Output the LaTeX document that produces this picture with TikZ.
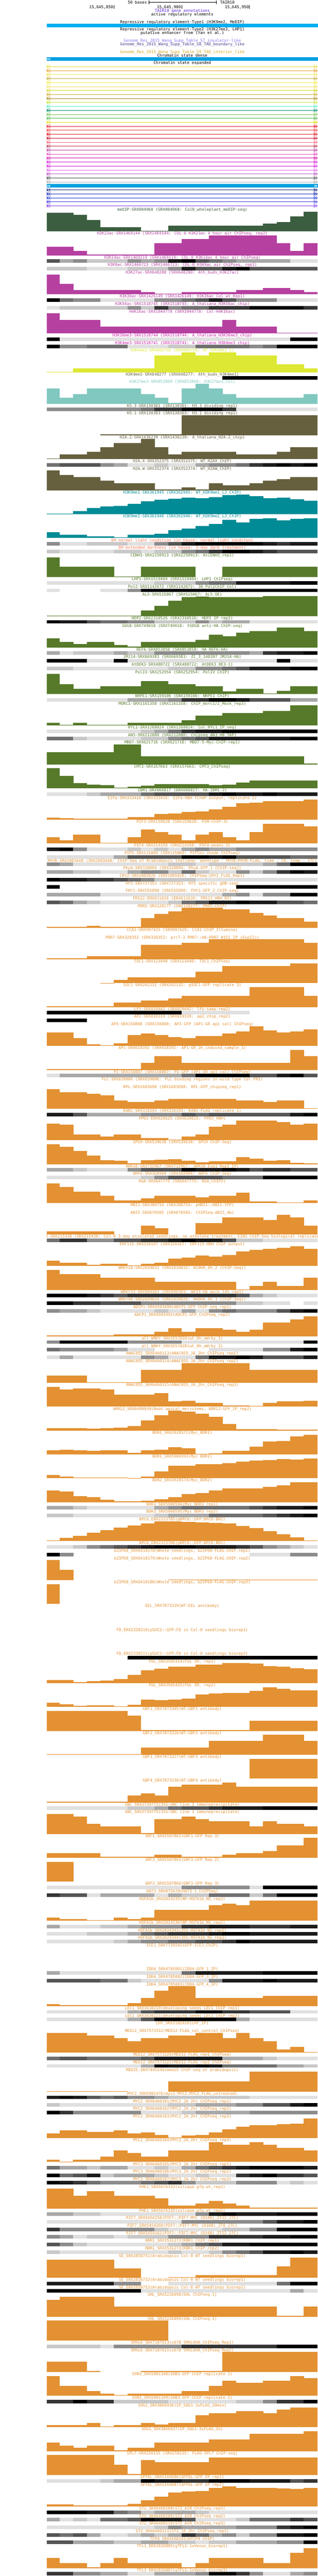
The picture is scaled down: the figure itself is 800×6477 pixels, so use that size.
\documentclass[tikz,border=0pt]{standalone}
\usepackage{fontspec}
\usepackage{xcolor}
\newfontfamily\ucsc{DejaVu Sans Mono}
\usetikzlibrary{positioning}

\definecolor{g1}{RGB}{224,224,224}
\definecolor{g2}{RGB}{200,200,200}
\definecolor{g3}{RGB}{168,168,168}
\definecolor{g4}{RGB}{140,140,140}
\definecolor{g5}{RGB}{112,112,112}
\definecolor{g6}{RGB}{85,85,85}
\definecolor{g7}{RGB}{53,53,53}
\definecolor{g8}{RGB}{27,27,27}
\definecolor{g9}{RGB}{0,0,0}
\definecolor{cMe}{RGB}{60,94,64}
\definecolor{cAc}{RGB}{181,64,160}
\definecolor{cMthree}{RGB}{204,34,170}
\definecolor{cKtwo}{RGB}{221,232,52}
\definecolor{cBrown}{RGB}{102,96,62}
\definecolor{cKtwoseven}{RGB}{128,200,192}
\definecolor{cTeal}{RGB}{0,139,150}
\definecolor{cDH}{RGB}{250,115,75}
\definecolor{cGreen}{RGB}{86,122,42}
\definecolor{cOr}{RGB}{227,145,50}
\definecolor{tairc}{RGB}{90,30,220}
\definecolor{insc}{RGB}{130,120,240}
\definecolor{tadb}{RGB}{72,61,139}
\definecolor{tadi}{RGB}{218,165,32}
\definecolor{repbar}{RGB}{0,174,239}
\definecolor{csbar}{RGB}{0,160,225}
\definecolor{st1}{RGB}{226,226,60}
\definecolor{st2}{RGB}{230,160,50}
\definecolor{st3}{RGB}{238,230,80}
\definecolor{st4}{RGB}{200,175,60}
\definecolor{st5}{RGB}{240,240,60}
\definecolor{st6}{RGB}{245,225,100}
\definecolor{st7}{RGB}{215,215,30}
\definecolor{st8}{RGB}{210,170,50}
\definecolor{st9}{RGB}{170,140,20}
\definecolor{st10}{RGB}{200,225,50}
\definecolor{st11}{RGB}{90,235,200}
\definecolor{st12}{RGB}{0,140,110}
\definecolor{st13}{RGB}{120,195,80}
\definecolor{st14}{RGB}{80,180,80}
\definecolor{st15}{RGB}{220,220,10}
\definecolor{st16}{RGB}{230,20,40}
\definecolor{st17}{RGB}{240,60,60}
\definecolor{st18}{RGB}{220,20,30}
\definecolor{st19}{RGB}{200,10,40}
\definecolor{st20}{RGB}{240,100,130}
\definecolor{st21}{RGB}{190,50,80}
\definecolor{st22}{RGB}{180,60,160}
\definecolor{st23}{RGB}{225,80,190}
\definecolor{st24}{RGB}{210,10,170}
\definecolor{st25}{RGB}{210,20,210}
\definecolor{st26}{RGB}{215,30,220}
\definecolor{st27}{RGB}{230,100,240}
\definecolor{st28}{RGB}{180,80,190}
\definecolor{st29}{RGB}{80,80,80}
\definecolor{st30}{RGB}{170,170,170}
\definecolor{hm1}{RGB}{20,40,130}
\definecolor{hm2}{RGB}{10,30,170}
\definecolor{hm3}{RGB}{30,60,210}
\definecolor{hm4}{RGB}{70,60,220}
\definecolor{hm5}{RGB}{130,60,230}

\newcount\trkY
\newcount\trkN
\newcommand{\tracklabel}[2]{%
  \global\advance\trkN by 1
  \begin{scope}
    \clip (118,{\the\trkY-9}) rectangle (800,{\the\trkY+6});
    \node[lbl, text=#2] (trk\the\trkN) at (459,{\the\trkY+3.5}) {#1};
  \end{scope}}
\newcommand{\graphtrack}[3]{%
  \tracklabel{#1}{#2}
  \foreach \hgt [count=\k] in {#3}{%
    \ifnum\hgt>0
      \pgfmathsetmacro\xl{max(118,116+34.15*(\k-1))}
      \pgfmathsetmacro\xr{116.4+34.15*\k}
      \fill[#2] (\xl,{\the\trkY+55}) rectangle (\xr,{\the\trkY+55-\hgt});
    \fi}
  \global\advance\trkY by 60}
\newcommand{\densetrack}[3]{%
  \tracklabel{#1}{#2}
  \foreach \lev [count=\k] in {#3}{%
    \ifnum\lev>0
      \pgfmathsetmacro\xl{max(118,116+34.15*(\k-1))}
      \pgfmathsetmacro\xr{116.4+34.15*\k}
      \fill[g\lev] (\xl,{\the\trkY+5}) rectangle (\xr,{\the\trkY+14});
    \fi}
  \global\advance\trkY by 19}

\begin{document}
\begin{tikzpicture}[x=1pt,y=-1pt]
\tikzstyle{lbl} = [font=\ucsc\fontsize{10}{10}\selectfont, inner sep=0pt, anchor=base]
\tikzstyle{hdr} = [lbl, text=black]
\tikzstyle{tick} = [line width=1pt]

\useasboundingbox[fill=white] (0,0) rectangle (800,6477);

\coordinate (sbL) at (374.5,6);
\coordinate (sbR) at (545,6);
\draw[tick] (sbL) -- (sbR);
\draw[tick] (374.5,1.5) -- (374.5,10.5) (545,1.5) -- (545,10.5);
\node[hdr, anchor=base east] (sbtxt) at (370,9.5) {50 bases};
\node[hdr, anchor=base west] (sbasm) at (554,9.5) {TAIR10};

\node[hdr, anchor=base east] (pos1) at (285,21.2) {15,645,850};
\node[hdr, anchor=base east] (pos2) at (455.5,21.2) {15,645,900};
\node[hdr, anchor=base east] (pos3) at (626.5,21.2) {15,645,950};
\draw[tick] (286.6,13) -- (286.6,21.5) (457.2,13) -- (457.2,21.5) (627.8,13) -- (627.8,21.5);

\node[lbl, text=tairc] (genes) at (459,30.5) {TAIR10 gene annotations};
\node[hdr] (active) at (459,39.5) {active regulatory elements};
\node[hdr] (repone) at (459,58.5) {Repressive regulatory element-Type1 (H3K9me2, MeDIP)};
\fill[repbar] (118,60) rectangle (800,69);
\node[hdr] (reptwo) at (459,77.5) {Repressive regulatory element-Type2 (H3K27me3, LHP1)};
\node[hdr] (enh) at (459,86.5) {putative enhancer from (Yan et al.)};
\node[lbl, text=insc] (ins) at (459,105.5) {Genome\_Res\_2015\_Wang\_Supp\_Table\_S7\_insulator-like};
\node[lbl, text=tadb] (tadbd) at (459,114.5) {Genome\_Res\_2015\_Wang\_Supp\_Table\_S8\_TAD\_boundary\_like};
\node[lbl, text=tadi] (tadin) at (459,133.5) {Genome\_Res\_2015\_Wang\_Supp\_Table\_S9\_TAD\_interior\_like};
\node[hdr] (csdense) at (459,142.5) {Chromatin state dense};
\fill[csbar] (118,144) rectangle (800,153);
\fill[white] (122,145.5) -- (119,148.5) -- (122,151.5) -- cycle (126,145.5) -- (123,148.5) -- (126,151.5) -- cycle;
\node[hdr] (csexp) at (459,161.5) {Chromatin state expanded};

\foreach \c [count=\i] in {st1,st2,st3,st4,st5,st6,st7,st8,st9,st10,st11,st12,st13,st14,st15,st16,st17,st18,st19,st20,st21,st22,st23,st24,st25,st26,st27,st28,st29,st30}{
  \pgfmathsetmacro\yy{157.5+10*\i}
  \draw[\c, line width=1pt] (118,\yy) -- (799,\yy);
  \draw[\c, line width=0.8pt] (118.5,{\yy-4}) -- (118.5,{\yy+4}) (123,{\yy-4}) -- (119,\yy) -- (123,{\yy+4}) (127,{\yy-4}) -- (123,\yy) -- (127,{\yy+4});
  \draw[\c, line width=0.8pt] (790.5,{\yy-4}) -- (790.5,{\yy+4}) (791,{\yy-4}) -- (795,\yy) -- (791,{\yy+4}) (795,{\yy-4}) -- (799,\yy) -- (795,{\yy+4});
}

\fill[csbar] (118,463) rectangle (800,472);
\fill[white] (122,464.5) -- (119,467.5) -- (122,470.5) -- cycle (126,464.5) -- (123,467.5) -- (126,470.5) -- cycle;
\fill[white] (792,464.5) -- (795,467.5) -- (792,470.5) -- cycle (796,464.5) -- (799,467.5) -- (796,470.5) -- cycle;

\foreach \c [count=\i] in {hm1,hm2,hm3,hm4,hm5}{
  \pgfmathsetmacro\yy{467.5+10*\i}
  \draw[\c, line width=1pt] (118,\yy) -- (799,\yy);
  \draw[\c, line width=0.8pt] (118.5,{\yy-4}) -- (118.5,{\yy+4}) (123,{\yy-4}) -- (119,\yy) -- (123,{\yy+4}) (127,{\yy-4}) -- (123,\yy) -- (127,{\yy+4});
  \draw[\c, line width=0.8pt] (790.5,{\yy-4}) -- (790.5,{\yy+4}) (791,{\yy-4}) -- (795,\yy) -- (791,{\yy+4}) (795,{\yy-4}) -- (799,\yy) -- (795,{\yy+4});
}

\global\trkY=527
\global\trkN=0

\graphtrack{meDIP-SRX004968 (SRX004968: Col0\_wholeplant\_meDIP-seq)}{cMe}{47,47,42,29,11,11,11,2,2,15,15,15,15,15,15,15,20,24,38,50}
\graphtrack{H3K23ac-SRX1469144 (SRX1469144: COL-0 H3K23ac 4 hour air ChIPseq, rep2)}{cAc}{22,22,11,2,2,2,2,2,31,31,41,41,50,50,50,50,50,31,11,31}
\densetrack{H3K14ac-SRX1469119 (SRX1469119: COL-0 H3K14ac 4 hour air ChIPseq)}{cAc}{6,3,4,2,2,2,4,3,4,8,9,6,5,4,3,3,3,3,1,1}
\densetrack{H3K9ac-SRX1466723 (SRX1466723: COL-0 H3K9ac air ChIPseq, rep1)}{cAc}{2,2,2,1,1,1,2,2,2,4,8,6,6,8,9,6,6,6,6,6}
\graphtrack{H3K27ac-SRX648280 (SRX648280: Ath\_buds\_H3K27ac)}{cAc}{50,26,11,11,11,11,11,6,2,2,6,6,6,6,11,11,16,16,11,6}
\densetrack{H3K36ac-SRX1426149 (SRX1426149: H3K36ac\_Col\_wt\_Rep1)}{cAc}{9,5,4,4,1,1,1,1,4,4,5,6,8,6,4,4,4,1,1,1}
\densetrack{H3K56ac-SRX1518745 (SRX1518745: A\_thaliana\_H3K56ac\_chip)}{cAc}{1,2,2,2,2,2,4,2,7,4,5,5,7,7,7,9,9,9,9,7}
\graphtrack{H4K16ac-SRX1044778 (SRX1044778: Col-H4K16ac)}{cAc}{50,34,34,34,17,17,17,17,17,17,17,17,17,34,17,17,17,1,1,1}
\densetrack{H3K36me3-SRX1518744 (SRX1518744: A\_thaliana\_H3K36me3\_chip)}{cMthree}{9,1,1,1,1,1,1,1,1,1,1,1,1,1,1,1,1,1,9,9}
\densetrack{H3K4me3-SRX1518741 (SRX1518741: A\_thaliana\_H3K4me3\_chip)}{cMthree}{9,4,4,5,5,5,1,1,1,2,2,5,5,5,5,4,5,9,9,9}
\graphtrack{H3K4me2-DRX066756 (DRX066756: WT\_H3K4me2\_1)}{cKtwo}{1,1,10,10,10,10,10,10,42,42,50,42,50,50,42,42,42,20,20,10}
\densetrack{H3K4me1-SRX648277 (SRX648277: Ath\_buds\_H3K4me1)}{cBrown}{0,0,0,0,0,0,0,0,0,0,0,0,0,9,9,9,9,9,9,9}
\graphtrack{H3K27me3-SRX853860 (SRX853860: H3K27me3\_Col)}{cKtwoseven}{38,15,24,38,38,38,38,24,15,2,38,50,38,24,15,15,15,15,15,24}
\densetrack{H3.3-SRX130301 (SRX130301: H3.3 dividing rep1)}{cBrown}{4,4,4,4,4,4,4,5,7,7,9,9,9,7,1,1,1,1,1,1}
\graphtrack{H3.1-SRX130303 (SRX130303: H3.1 dividing rep1)}{cBrown}{0,0,0,0,2,2,2,2,2,2,50,50,50,50,50,50,50,50,50,50}
\graphtrack{H2A.Z-SRX1436239 (SRX1436239: A\_thaliana\_H2A.Z\_chip)}{cBrown}{1,11,11,18,29,40,40,50,29,11,18,18,18,18,11,11,11,18,29,29}
\densetrack{H2A.X-SRX352375 (SRX352375: WT\_H2AX\_ChIP)}{cBrown}{5,6,6,6,4,3,1,1,2,1,1,3,4,4,5,7,8,9,8,9}
\graphtrack{H2A.W-SRX352374 (SRX352374: WT\_H2AW\_ChIP)}{cBrown}{50,39,34,34,24,18,18,18,2,2,7,2,18,13,13,18,24,28,34,34}
\graphtrack{H3K9me1-SRX361945 (SRX361945: WT\_H3K9me1\_LJ\_ChIP)}{cTeal}{1,2,8,16,20,21,26,33,37,39,42,41,43,48,50,46,40,42,38,34}
\graphtrack{H3K9me2-SRX361946 (SRX361946: WT\_H3K9me2\_LJ\_ChIP)}{cTeal}{15,8,9,5,5,2,9,8,11,20,24,31,35,46,40,48,50,45,48,50}
\densetrack{DH-normal\_light\_condition (in house: normal light conditon)}{cDH}{4,1,1,2,2,2,1,1,4,6,8,9,9,9,9,9,8,7,8,8}
\densetrack{DH-extended\_darkness (in house: 3-day dark treatment)}{cDH}{2,1,1,1,1,2,2,1,2,2,4,5,7,9,9,8,7,6,6,6}
\graphtrack{CENH3-SRX2250913 (SRX2250913: AtCENH3\_rep1)}{cGreen}{50,26,26,26,26,2,2,26,26,26,26,0,0,26,26,26,26,26,26,26}
\densetrack{LHP1-SRX1519404 (SRX1519404: LHP1 ChIPseq)}{cGreen}{1,1,1,1,1,1,1,1,2,2,2,4,5,5,8,8,8,8,9,9}
\densetrack{Pol2-SRX1142672 (SRX1142672: 30\_Pol2ChIP\_Col)}{cGreen}{1,0,0,0,1,1,4,9,9,9,9,9,9,9,9,9,9,9,9,9}
\graphtrack{AL5-SRX515067 (SRX515067: AL5\_OE)}{cGreen}{1,1,1,1,1,1,1,14,26,38,48,49,48,48,48,48,50,50,50,50}
\densetrack{HDP2-SRX2310526 (SRX2310526: HDP2 IP rep2)}{cGreen}{9,8,8,6,5,5,4,4,2,2,2,4,2,3,3,1,1,1,1,1}
\graphtrack{SDG8-SRX749018 (SRX749018: hSDG8 anti-HA ChIP-seq)}{cGreen}{23,14,9,14,14,6,2,14,14,14,14,19,32,28,37,41,41,50,50,41}
\densetrack{REF6-SRX853858 (SRX853858: HA\_REF6-HA)}{cGreen}{3,1,2,2,2,3,2,2,4,4,4,4,4,4,4,3,7,8,8,9}
\densetrack{JMJ14-SRX669383 (SRX669383: ZC\_3\_140207 JMJ14-HA)}{cGreen}{9,9,9,1,1,9,1,1,1,1,1,1,1,1,1,1,1,9,1,1}
\densetrack{AtDEK3-SRX488722 (SRX488722: AtDEK3 OE3-1)}{cGreen}{2,2,1,1,1,1,1,1,1,2,2,4,4,5,6,8,8,8,9,9}
\graphtrack{PolIV-SRX252954 (SRX252954: PolIV ChIP)}{cGreen}{50,25,13,13,20,20,20,32,32,25,25,20,20,7,13,13,2,8,20,20}
\densetrack{NRPE1-SRX159106 (SRX159106: NRPE1 ChIP)}{cGreen}{1,1,1,1,1,1,3,3,3,4,7,7,9,9,8,6,6,6,3,3}
\graphtrack{MORC1-SRX1161358 (SRX1161358: ChIP\_morc1/2\_Mock\_rep3)}{cGreen}{7,2,7,2,2,2,7,7,7,7,13,25,25,31,31,31,37,37,50,50}
\densetrack{HYL1-SRX1268024 (SRX1268024: Col\_HYL1\_IP\_seq)}{cGreen}{1,1,1,1,1,1,1,2,3,5,7,8,8,9,9,9,9,9,9,9}
\densetrack{AN3-SRX212080 (SRX212080: Chipseq AN3 HB TAP)}{cGreen}{5,5,2,1,1,1,1,2,2,4,5,6,8,8,8,8,8,8,9,9}
\graphtrack{MBD7-SRX621716 (SRX621716: MBD7-5-Myc-ChIP-rep1)}{cGreen}{31,31,31,31,31,50,50,20,20,20,20,20,20,20,20,20,20,20,20,2}
\graphtrack{CMT3-SRX157663 (SRX157663: CMT3\_ChIPseq)}{cGreen}{50,31,13,9,8,2,4,6,11,11,11,10,8,9,14,20,20,20,20,20}
\densetrack{IBM1-DRX066817 (DRX066817: HA-IBM1\_2)}{cGreen}{1,1,1,2,3,3,3,5,6,6,6,6,8,9,8,8,9,8,8,8}
\graphtrack{E2Fa-SRX333416 (SRX333416: E2Fa-HBH TChAP output, replicate 2)}{cOr}{5,4,3,3,2,3,6,7,14,16,19,21,26,33,41,43,47,47,47,50}
\graphtrack{PIF3-SRX159028 (SRX159028: P3M-ChIP-3)}{cOr}{16,8,22,22,2,2,16,36,29,22,8,22,29,16,8,29,50,50,50,43}
\densetrack{PIF4-SRX214150 (SRX214150: PIF4-peaks-3)}{cOr}{8,9,4,1,1,1,2,1,2,1,3,4,3,3,4,4,4,4,4,4}
\densetrack{PIF5-SRX115869 (SRX115869: PIF5ox shade ChIPseq)}{cOr}{1,1,1,1,1,3,6,6,6,6,9,9,8,9,6,6,6,6,5,5}
\densetrack{PHYB-SRX2083648 (SRX2083648: ChIP-Seq of Arabidopsis thaliana: genotype - PHYB:PHYB-FLAG, time - 10, temp - 17C)}{cOr}{4,3,1,1,1,1,1,1,1,2,2,1,2,2,2,2,3,5,9,9}
\densetrack{PhyA-SRX320094 (SRX320094: PhyA-GFP\_1 [ChIP-seq])}{cOr}{3,3,2,2,1,1,3,4,4,2,5,2,1,1,4,2,4,7,9,8}
\densetrack{CRY2-SRX1005826 (SRX1005826: ChIPSeq-CRY2\_FLAG\_Rep1)}{cOr}{9,8,8,7,7,6,5,4,2,2,2,1,1,1,1,1,1,1,1,1}
\densetrack{HY5-SRX727353 (SRX727353: HY5 specific gDB-seq)}{cOr}{9,0,0,0,0,0,0,0,0,0,0,0,0,0,9,9,9,9,9,9}
\densetrack{FHY1-SRX555090 (SRX555090: FHY1-GFP\_2\_ChIP-seq)}{cOr}{3,3,3,3,1,1,1,1,1,1,1,1,1,3,4,1,4,4,9,9}
\densetrack{FRS12-ERX611626 (ERX611626: FRS12\_HBH\_N2)}{cOr}{6,5,3,2,1,1,1,1,1,2,5,6,8,8,9,8,8,6,6,5}
\graphtrack{PRR5-SRX128177 (SRX128177: PRR5-ChIP)}{cOr}{2,2,2,5,2,2,2,24,35,42,50,50,50,46,46,38,31,24,24,16}
\densetrack{CCA1-SRX997425 (SRX997425: CCA1-ChIP\_Illumina)}{cOr}{0}
\graphtrack{PRR7-SRX328353 (SRX328353: prr7-3 PRR7::HA-PRR7 \#151 IP (ExpII))}{cOr}{2,2,2,8,8,8,8,36,36,36,42,42,50,50,50,50,50,50,50,42}
\graphtrack{TOC1-SRX121040 (SRX121040: TOC1\_ChIPSeq)}{cOr}{0,0,0,0,1,8,15,15,15,15,15,29,29,43,43,43,43,43,50,50}
\graphtrack{SOC1-SRX262132 (SRX262132: gSOC1-GFP replicate 3)}{cOr}{2,2,2,2,2,11,11,17,17,22,28,28,28,28,28,50,50,50,50,28}
\densetrack{LFY-SRX029442 (SRX029442: lfy-samp-rep2)}{cOr}{9,9,9,9,9,9,9,9,9,9,1,1,1,1,1,0,0,0,0,0}
\densetrack{AP2-SRX019319 (SRX019319: ap2\_chip\_rep2)}{cOr}{9,9,9}
\graphtrack{AP3-SRX150808 (SRX150808: AP3-GFP (AP1-GR ap1 cal) ChIPseq)}{cOr}{34,34,20,4,2,7,28,31,28,23,20,25,25,31,37,50,39,34,37,42}
\graphtrack{AP1-SRX018392 (SRX018392: AP1-GR\_2h\_induced\_sample\_1)}{cOr}{2,2,2,2,2,2,2,18,34,34,18,18,18,18,18,18,18,18,50,34}
\densetrack{PI-SRX150807 (SRX150807: PI-GFP (AP1-GR ap1 cal) ChIPseq)}{cOr}{1,3,3,3,3,3,3,3,3,3,5,9,9,9,9,6,6,8,9,6}
\densetrack{FLC-SRX039006 (SRX039006: FLC binding regions in wild type Col FRI)}{cOr}{0}
\graphtrack{RPL-SRX1603698 (SRX1603698: RPL-GFP\_chipseq\_rep1)}{cOr}{50,42,42,38,34,21,17,17,21,25,25,25,25,25,21,21,17,21,21,2}
\densetrack{KAN1-SRX310193 (SRX310193: KAN1-FLAG replicate 1)}{cOr}{8,8,6,3,3,3,3,4,4,4,6,5,6,6,6,6,6,6,8,9}
\graphtrack{PPD2-ERX620625 (ERX620625: PPD2\_HBH)}{cOr}{42,39,14,14,9,14,14,5,5,2,9,14,34,39,50,50,50,46,39,42}
\graphtrack{SPCH-SRX539638 (SRX539638: SPCH ChIP-Seq)}{cOr}{50,43,33,22,10,8,2,10,11,12,8,5,7,7,17,14,8,10,3,2}
\densetrack{ARR10-SRX732967 (SRX732967: ARR10\_Exp1\_Rep1\_IP)}{cOr}{3,3,2,1,1,1,4,6,6,6,9,8,8,9,8,6,7,7,6,6}
\densetrack{ARF6-SRX368984 (SRX368984: ARF6 ChIP-Seq)}{cOr}{1,1,1,1,1,1,1,2,4,6,6,6,6,5,5,5,9,9,9,9}
\graphtrack{RGA-SRX647775 (SRX647775: RGA\_ChIP2)}{cOr}{50,40,29,29,18,7,7,12,18,18,18,15,18,18,26,4,4,2,2,7}
\densetrack{HBI1-SRX388754 (SRX388754: pHBI1::HBI1-YFP)}{cOr}{0}
\graphtrack{ABI5-SRX670505 (SRX670505: ChIPSeq-ABI5\_Ab)}{cOr}{8,8,8,8,8,0,0,22,16,0,0,29,29,43,43,43,36,50,43,22}
\densetrack{EIN3-SRX215430 (SRX215430: Col-0 3-day etiolated seedlings, no ethylene treatment, EIN3 ChIP-Seq biological replicate 1)}{cOr}{5,7,7,4,4,6,6,7,7,8,9,8,8,6,2,2,1,1,1,1}
\graphtrack{ERF115-SRX320167 (SRX320167: ERF115-HBH ChIP output)}{cOr}{13,8,8,3,5,5,2,5,8,18,21,26,23,28,36,41,43,46,50,43}
\graphtrack{WRKY18-SRX2039032 (SRX2039032: W18HA\_0h\_2 (ChIP-Seq))}{cOr}{50,40,40,40,30,30,30,30,20,20,20,20,20,20,1,10,20,10,10,30}
\densetrack{WRKY33-SRX890383 (SRX890383: WK33-HA mock 14h rep1)}{cOr}{9,9,9,8,7,6,7,7,7,7,7,7,7,7,6,3,2,1,1,1}
\densetrack{WRKY40-SRX2039026 (SRX2039026: W40HA\_0h\_1 (ChIP-Seq))}{cOr}{9,9,7,7,6,6,6,4,4,4,4,4,4,4,2,2,1,1,0,1}
\densetrack{ADCP1-SRX4503490(ADCP1-GFP ChIP-seq\_rep1)}{cOr}{4,3,3,2,1,1,1,1,2,1,3,1,4,5,4,4,4,6,8,9}
\graphtrack{ADCP1\_SRX4503492(ADCP1-GFP\_ChIPseq\_rep2)}{cOr}{2,2,2,2,2,5,5,5,12,20,12,20,20,16,12,16,35,35,43,50}
\densetrack{all\_WRKY\_SRX3557820(wt\_0h\_aWrky\_1)}{cOr}{4,9,9,9,9,9,4,4,4,4,1,1,1,1,1,1,1,1,1,9}
\densetrack{all\_WRKY\_SRX3557828(wt\_0h\_aWrky\_2)}{cOr}{5,4,4,4,4,3,1,1,0,0,0,0,1,1,1,1,4,4,8,9}
\densetrack{ANAC055\_SRX6460113(ANAC055\_JA\_2hr\_ChIPseq\_rep1)}{cOr}{1,3,1,1,1,1,1,4,3,1,1,5,8,8,9,8,6,6,6,8}
\graphtrack{ANAC055\_SRX6460114(ANAC055\_JA\_2hr\_ChIPseq\_rep2)}{cOr}{18,18,18,1,1,1,1,33,33,33,50,50,50,50,50,33,33,33,33,33}
\graphtrack{ANAC055\_SRX6460115(ANAC055\_JA\_2hr\_ChIPseq\_rep3)}{cOr}{50,43,46,46,43,31,31,31,34,13,15,10,10,3,3,2,10,13,13,15}
\graphtrack{ARR12\_SRX6490939(Root apical meristems, ARR12-GFP\_IP\_rep2)}{cOr}{6,6,6,5,6,8,12,25,39,50,48,42,35,16,3,3,3,2,2,2}
\graphtrack{BDR1\_SRX3928572(Myc\_BDR1)}{cOr}{10,12,10,9,10,10,4,10,12,18,16,2,3,9,9,19,33,34,45,50}
\graphtrack{BDR1\_SRX5900593(Myc BDR1)}{cOr}{8,4,2,2,2,2,1,5,18,31,32,35,36,38,42,45,46,49,47,50}
\graphtrack{BDR2\_SRX3928574(Myc\_BDR2)}{cOr}{30,27,15,12,6,2,2,3,8,12,20,23,29,34,34,34,38,42,50,50}
\densetrack{BDR3\_SRX5900594(Myc BDR3 rep1)}{cOr}{3,3,2,1,1,1,1,1,3,4,5,5,5,5,5,6,7,8,8,9}
\densetrack{BDR3\_SRX5900595(Myc BDR3 rep2)}{cOr}{2,2,1,1,1,1,1,1,2,3,3,3,5,5,5,5,6,7,8,9}
\graphtrack{BPC6\_ERX2223705(pBPC6::GFP:BPC6-BR1)}{cOr}{2,8,14,21,28,34,40,44,50,50,49,47,46,44,38,33,25,17,10,2}
\densetrack{BPC6\_ERX2223706(pBPC6::GFP:BPC6-BR1)}{cOr}{1,1,2,4,5,6,7,8,9,9,9,8,8,8,7,6,4,3,2,1}
\densetrack{bZIP68\_SRX6410178(Whole seedlings, bZIP68-FLAG.CHIP.rep1)}{cOr}{9,4,0,0,0,0,0,0,0,0,0,0,0,0,0,1,1,1,4,4}
\graphtrack{bZIP68\_SRX6410179(Whole seedlings, bZIP68-FLAG.CHIP.rep2)}{cOr}{50,26,0,0,0,0,0,0,0,2,2,2,2,2,2,2,2,2,2,2}
\graphtrack{bZIP68\_SRX6410180(Whole seedlings, bZIP68-FLAG.CHIP.rep3)}{cOr}{50}
\graphtrack{EEL\_SRX7873339(WT:EEL antibody)}{cOr}{0}
\graphtrack{FD\_ERX2338310(pSUC2::GFP:FD in Col-0 seedlings biorep1)}{cOr}{0}
\densetrack{FD\_ERX2338311(pSUC2::GFP:FD in Col-0 seedlings biorep2)}{cOr}{0,0,0,0,0,0,9,9,9,9,9,9,9,9,9,9,9,9,9,9}
\graphtrack{FUL\_SRX3505414(FUL IM, rep1)}{cOr}{8,8,2,5,7,10,21,32,36,41,41,46,46,50,50,49,43,41,38,35}
\graphtrack{FUL\_SRX3505415(FUL IM, rep2)}{cOr}{11,7,3,4,4,2,6,18,17,19,21,32,34,35,35,41,50,46,42,42}
\graphtrack{GBF1\_SRX7873305(WT:GBF1 antibody)}{cOr}{50,50,50,50,50,50,38,2,2,2,2,2,2,2,2,25,25,25,25,25}
\graphtrack{GBF2\_SRX7873316(WT:GBF2 antibody)}{cOr}{1,1,1,1,1,1,1,18,18,18,18,18,35,35,35,35,50,50,50,35}
\graphtrack{GBF3\_SRX7873327(WT:GBF3 antibody)}{cOr}{0,0,0,0,0,0,0,0,0,0,0,0,0,0,0,50,50,50,50,50}
\graphtrack{GBF4\_SRX7873338(WT:GBF4 antibody)}{cOr}{2,2,2,2,2,2,17,23,17,40,45,45,45,50,40,40,40,40,40,40}
\densetrack{GNC\_SRX3739773(35S:GNC line 2 immunoprecipitate)}{cOr}{1,1,1,1,1,1,2,2,3,5,6,6,7,8,8,8,9,9,9,9}
\graphtrack{GNC\_SRX3739775(35S:GNC line 1 immunoprecipitate)}{cOr}{50,50,44,25,19,19,19,2,37,37,44,37,32,32,32,19,32,25,25,19}
\graphtrack{GRF1\_SRX5507863(GRF1-GFP Rep 3)}{cOr}{11,11,11,11,2,2,2,2,7,7,2,2,2,7,11,11,17,31,31,50}
\graphtrack{GRF3\_SRX5507865(GRF3-GFP Rep 2)}{cOr}{50,50}
\densetrack{GRF3\_SRX5507866(GRF3-GFP Rep 3)}{cOr}{1,1,1,1,1,1,1,1,1,1,4,4,4,4,4,1,9,9,9,9}
\densetrack{HAT3\_SRX875470(HAT3-1\_ChIPSeq)}{cOr}{7,6,6,1,3,3,3,3,1,3,2,2,5,5,5,2,5,9,9,9}
\graphtrack{HSFA1b\_SRX2024335(NP:HSFA1b\_NS\_rep1)}{cOr}{8,4,4,1,1,8,4,8,27,27,27,27,39,43,39,50,50,50,50,50}
\densetrack{HSFA1b\_SRX2024336(NP:HSFA1b\_NS\_rep2)}{cOr}{3,1,1,1,2,2,3,4,4,4,7,7,8,8,8,7,7,7,8,8}
\densetrack{HSFA1b\_SRX2024343(35S:HSFA1b\_NS\_rep1)}{cOr}{1,1,1,2,2,2,3,5,6,7,7,7,8,9,9,8,8,8,8,8}
\densetrack{HSFA1b\_SRX2024344(35S:HSFA1b\_NS\_rep2)}{cOr}{1,1,1,1,1,2,3,4,4,5,5,6,6,7,9,8,8,8,8,8}
\graphtrack{ICE1\_SRX7719242(GFP-ICE1\_ChIP)}{cOr}{0}
\densetrack{IDD4\_SRX4705001(IDD4-GFP\_1\_IP)}{cOr}{3,1,1,1,1,1,1,1,1,1,5,8,8,8,8,8,9,9,9,9}
\densetrack{IDD4\_SRX4705002(IDD4-GFP\_3\_IP)}{cOr}{6,6,6,6,5,5,2,1,1,1,1,1,4,8,8,8,9,8,8,8}
\graphtrack{IDD4\_SRX4705003(IDD4-GFP\_4\_IP)}{cOr}{5,2,2,2,2,2,7,20,38,50,50,20,20,20,20,20,26,26,26,26}
\densetrack{LEC1\_SRX3638219(developing seeds\_LEC1\_ChIP rep1)}{cOr}{1,1,1,1,1,1,3,6,7,7,7,9,9,7,7,6,6,6,1,1}
\densetrack{LEC1\_SRX3638221(developing seeds\_LEC1\_ChIP rep2)}{cOr}{1,1,1,1,1,1,3,6,9,9,9,9,9,9,3,1,1,1,1,1}
\densetrack{LHY\_SRX3182010(LHY\_IP)}{cOr}{0}
\graphtrack{MED12\_SRX7573312(MED12-FLAG\_col\_control\_ChIPseq)}{cOr}{50,50,50,43,43,36,29,36,36,43,43,50,50,36,50,36,29,8,15,2}
\densetrack{MED12\_SRX7573320(MED12-FLAG\_rep1\_ChIPseq)}{cOr}{5,6,6,5,5,5,5,6,8,8,8,8,8,3,3,3,2,1,1,1}
\densetrack{MED12\_SRX7573322(MED12-FLAG\_rep2\_ChIPseq)}{cOr}{1,1,1,1,1,1,1,3,9,8,8,9,8,5,5,5,5,3,3,2}
\graphtrack{MED25\_SRX7445540(med25 ChIP-seq of arabidopsis)}{cOr}{1,1,1,1,1,1,0,0,0,26,26,26,26,26,26,50,50,50,50,50}
\densetrack{MYC2\_SRX5982476(myc2\_MYC2:MYC2\_FLAG\_untreated)}{cOr}{8,9,8,6,5,6,4,4,3,2,2,2,2,2,2,1,1,1,1,1}
\densetrack{MYC2\_SRX6460101(MYC2\_JA\_2hr\_ChIPseq\_rep1)}{cOr}{2,1,1,1,1,1,1,1,1,2,2,3,3,3,4,4,6,6,8,9}
\densetrack{MYC2\_SRX6460102(MYC2\_JA\_2hr\_ChIPseq\_rep2)}{cOr}{9,7,4,4,4,4,4,1,1,1,2,3,3,3,3,4,4,4,4,4}
\graphtrack{MYC2\_SRX6460103(MYC2\_JA\_2hr\_ChIPseq\_rep3)}{cOr}{12,19,19,16,16,19,12,14,8,2,6,8,14,22,29,32,32,35,37,50}
\graphtrack{MYC2\_SRX6460104(MYC2\_JA\_2hr\_ChIPseq\_rep4)}{cOr}{6,1,6,6,14,29,22,14,14,29,29,29,50,43,43,50,43,35,35,29}
\densetrack{MYC3\_SRX6460105(MYC3\_JA\_2hr\_ChIPseq\_rep1)}{cOr}{5,3,3,2,3,3,1,1,2,1,3,5,6,7,8,9,9,9,9,8}
\densetrack{MYC3\_SRX6460106(MYC3\_JA\_2hr\_ChIPseq\_rep2)}{cOr}{9,5,6,8,2,3,3,3,2,1,1,2,1,1,7,8,9,7,7,6}
\densetrack{MYC3\_SRX6460107(MYC3\_JA\_2hr\_ChIPseq\_rep3)}{cOr}{9,8,7,5,4,4,4,5,6,7,4,2,2,2,4,4,4,1,2,1}
\graphtrack{PHE1\_SRX5676333(silique.gfp.wt\_rep1)}{cOr}{50,50,32,44,44,32,32,32,26,7,7,13,19,13,7,2,2,2,2,2}
\densetrack{PHE1\_SRX5676335(silique.gfp.wt\_rep2)}{cOr}{3,3,2,2,1,1,1,1,1,1,1,4,8,9,8,8,8,9,9,9}
\densetrack{PIF7\_SRX5454258(PIF7::PIF7-MYC (D108)\_ZT12\_27C)}{cOr}{1,1,1,1,1,1,1,1,1,1,4,4,4,4,4,4,6,8,8,9}
\densetrack{PIF7\_SRX5454260(PIF7::PIF7-MYC (D108)\_ZT8\_27C)}{cOr}{7,4,4,4,4,4,4,4,2,1,1,1,1,2,2,4,4,9,9,9}
\densetrack{PIF7\_SRX5454262(PIF7::PIF7-MYC (D108)\_ZT12\_27C)}{cOr}{4,3,1,2,2,1,2,2,2,4,4,4,7,7,7,7,8,8,9,9}
\densetrack{RBR1\_SRX3531272(RBR1\_ChIP\_rep1)}{cOr}{6,4,2,1,1,1,1,1,1,2,3,5,6,8,8,9,9,9,9,9}
\densetrack{RBR1\_SRX3531273(RBR1\_ChIP\_rep2)}{cOr}{2,1,1,1,1,1,1,1,1,2,1,1,2,4,5,6,8,8,9,8}
\graphtrack{SE\_ERX2858751(Arabidopsis Col-0 WT seedlings biorep1)}{cOr}{46,46,46,46,46,24,24,0,0,2,2,6,6,6,6,6,6,28,50,50}
\densetrack{SE\_ERX2858752(Arabidopsis Col-0 WT seedlings biorep1)}{cOr}{8,8,8,8,8,4,4,0,0,1,1,1,1,1,1,1,1,5,9,9}
\densetrack{SE\_ERX2858753(Arabidopsis Col-0 WT seedlings biorep1)}{cOr}{9,9,9,9,9,9,9,1,1,1,1,1,1,1,1,1,1,1,3,1}
\graphtrack{SHL\_SRX3226098(SHL ChIPseq-1)}{cOr}{42,50,50,50,50,25,25,25,25,25,25,25,25,25,25,25,25,2,2,25}
\graphtrack{SHL\_SRX3226099(SHL ChIPseq-2)}{cOr}{50,50,50,50,50,50,50,50,50}
\densetrack{SMXL6\_SRX7187013(s678 SMXL6HA\_ChIPseq\_Rep1)}{cOr}{2,2,2,2,1,4,4,4,4,4,7,7,7,7,7,7,7,9,9,9}
\graphtrack{SMXL6\_SRX7187015(s678 SMXL6HA\_ChIPseq\_Rep2)}{cOr}{26,26,26,2,0,0,0,2,2,2,2,2,2,50,50,50,50,50,50,50}
\graphtrack{SOB3\_SRX5001348(SOB3-GFP ChIP replicate 1)}{cOr}{50,25,25,12,6,2,6,6,6,6,12,12,25,38,33,33,38,38,50,44}
\densetrack{SOB3\_SRX5001349(SOB3-GFP ChIP replicate 2)}{cOr}{7,7,9,7,7,2,2,2,2,1,1,1,1,1,2,2,4,7,7,9}
\graphtrack{SOG1\_SRX3866936(IP\_SOG1-3xFLAG\_20min)}{cOr}{6,6,6,11,2,6,6,11,7,11,11,30,35,35,40,40,35,44,50,50}
\graphtrack{SOG1\_SRX3866937(IP\_SOG1-3xFLAG\_1h)}{cOr}{22,14,9,14,14,2,9,9,22,22,22,22,29,29,29,43,43,43,43,50}
\graphtrack{SPL7-SRX250135 (SRX250135: FLAG-SPL7 ChIP-seq)}{cOr}{50,50,50,50,50,26,2,38,32,32,32,32,44,44,44,44,44,44,44,44}
\densetrack{SPT6L\_SRX5169086(SPT6L-GFP IP rep1)}{cOr}{1,1,1,1,2,3,3,9,8,8,7,7,9,9,9,8,8,8,6,7}
\graphtrack{SPT6L\_SRX5169087(SPT6L-GFP IP rep2)}{cOr}{5,5,3,2,3,3,7,16,25,35,38,39,47,50,47,47,47,45,44,47}
\densetrack{STZ\_SRX6460108(STZ\_AIR\_ChIPseq\_rep1)}{cOr}{9,9,9,8,8,5,4,2,3,3,3,2,1,1,1,1,1,1,1,1}
\densetrack{STZ\_SRX6460109(STZ\_AIR\_ChIPseq\_rep2)}{cOr}{3,1,2,1,5,5,6,9,8,8,6,1,1,1,2,5,5,5,7,6}
\densetrack{STZ\_SRX6460110(STZ\_AIR\_ChIPseq\_rep3)}{cOr}{1,1,1,1,1,1,1,1,2,4,3,3,3,3,4,4,4,7,8,9}
\densetrack{STZ\_SRX6460111(STZ\_JA\_2hr\_ChIPseq\_rep1)}{cOr}{6,5,6,3,1,1,2,3,2,3,7,5,3,4,2,4,4,8,8,9}
\densetrack{TCP4\_SRX4168241(mTCP4\_ChIP)}{cOr}{6,6,3,3,3,2,2,3,3,2,2,1,2,2,3,3,3,4,4,9}
\graphtrack{TFL1\_ERX2826885(gTFL1-1xVenus\_biorep1)}{cOr}{25,12,12,2,12,25,12,12,12,12,2,12,25,25,25,25,12,12,38,50}
\densetrack{TFL1\_ERX2826887(gTFL1-1xVenus\_biorep3)}{cOr}{7,7,4,4,3,3,1,1,3,3,3,4,9,9,7,4,1,1,3,4}
\end{tikzpicture}
\end{document}
